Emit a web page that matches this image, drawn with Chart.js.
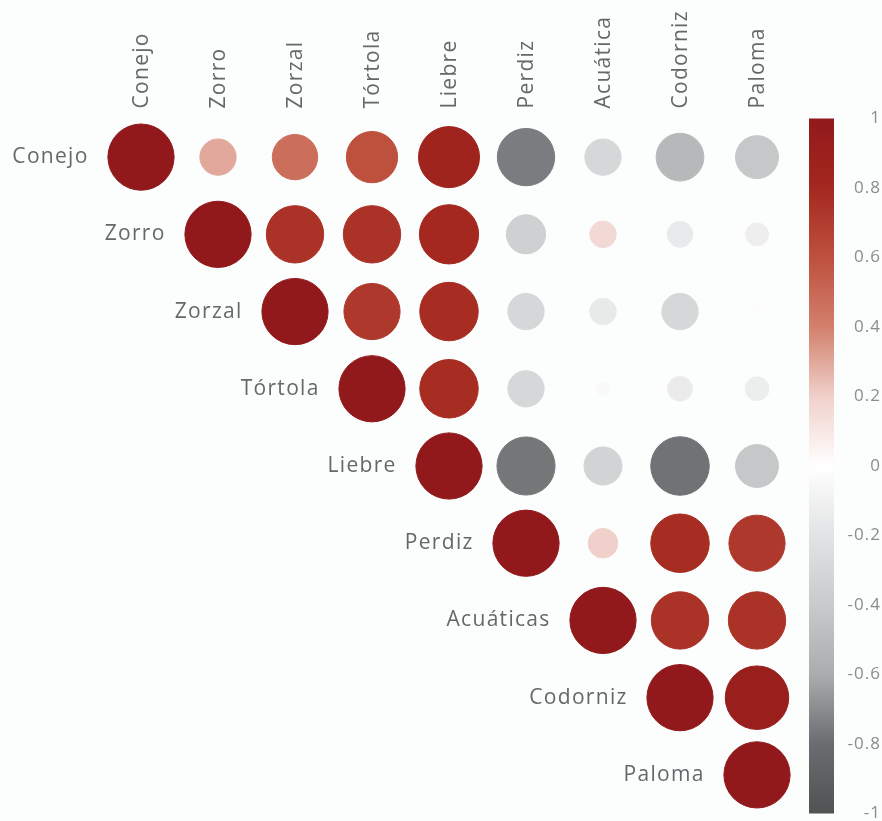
<!DOCTYPE html>
<html><head><meta charset="utf-8">
<script src="https://cdn.jsdelivr.net/npm/chart.js@4/dist/chart.umd.min.js"></script>
<style>html,body{margin:0;padding:0;background:#fcfdfd;} #wrap{width:882px;height:821px;position:relative;}</style>
</head><body><div id="wrap"><canvas id="c" width="882" height="821"></canvas></div>
<script>
// ---- data ----
const colLabels = ['Conejo','Zorro','Zorzal','Tórtola','Liebre','Perdiz','Acuática','Codorniz','Paloma'];
const rowLabels = ['Conejo','Zorro','Zorzal','Tórtola','Liebre','Perdiz','Acuáticas','Codorniz','Paloma'];
// upper triangle of the correlation matrix; each row starts at the diagonal
const rConejo    = [1, 0.30, 0.47, 0.60, 0.85, -0.75, -0.30, -0.52, -0.42];
const rZorro     = [1, 0.75, 0.75, 0.80, -0.35, 0.16, -0.15, -0.12];
const rZorzal    = [1, 0.72, 0.78, -0.30, -0.16, -0.30, -0.02];
const rTortola   = [1, 0.78, -0.30, -0.04, -0.14, -0.13];
const rLiebre    = [1, -0.77, -0.33, -0.78, -0.42];
const rPerdiz    = [1, 0.20, 0.78, 0.72];
const rAcuaticas = [1, 0.75, 0.75];
const rCodorniz  = [1, 0.92];
const rPaloma    = [1];
const colorTicks = [1, 0.8, 0.6, 0.4, 0.2, 0, -0.2, -0.4, -0.6, -0.8, -1];

// ---- style ----
const rows = [rConejo, rZorro, rZorzal, rTortola, rLiebre, rPerdiz, rAcuaticas, rCodorniz, rPaloma];
const stops = [
  [-1, [80, 83, 84]], [-0.8, [106, 109, 111]], [-0.6, [170, 173, 174]], [-0.4, [200, 202, 203]],
  [-0.2, [226, 227, 228]], [0, [255, 255, 255]], [0.2, [240, 208, 202]], [0.4, [210, 128, 108]],
  [0.6, [190, 80, 62]], [0.8, [164, 40, 31]], [1, [145, 25, 27]]
];
function colorFor(v) {
  if (typeof v !== 'number') return 'rgba(0,0,0,0)';
  for (let k = 0; k < stops.length - 1; k++) {
    const [a, ca] = stops[k], [b, cb] = stops[k + 1];
    if (v >= a && v <= b) {
      const t = (v - a) / (b - a);
      const c = ca.map((x, i) => Math.round(x + (cb[i] - x) * t));
      return `rgb(${c[0]},${c[1]},${c[2]})`;
    }
  }
  return 'rgb(145,25,27)';
}

const points = [];
rows.forEach((row, i) => row.forEach((v, j) => points.push({ x: i + j, y: i, v })));

const labelFont = '21px "Open Sans"';
const labelColor = '#65686a';

function cellSize(chart) {
  const xs = chart.scales.x;
  return xs ? xs.getPixelForValue(1) - xs.getPixelForValue(0) : 77;
}

const decor = {
  id: 'decor',
  afterDraw(chart) {
    const ctx = chart.ctx, xs = chart.scales.x, ys = chart.scales.y, cb = chart.scales.cb;
    const cell = cellSize(chart);
    ctx.save();
    ctx.font = labelFont;
    ctx.fillStyle = labelColor;
    ctx.letterSpacing = '1.3px';
    colLabels.forEach((lab, i) => {
      ctx.save();
      ctx.translate(xs.getPixelForValue(i) + 1, ys.top - 10);
      ctx.rotate(-Math.PI / 2);
      ctx.textAlign = 'left';
      ctx.textBaseline = 'middle';
      ctx.fillText(lab, 0, 0);
      ctx.restore();
    });
    ctx.textAlign = 'right';
    ctx.textBaseline = 'middle';
    rowLabels.forEach((lab, i) => {
      ctx.fillText(lab, xs.getPixelForValue(i) - cell * 0.68, ys.getPixelForValue(i));
    });
    const x0 = 809, w = 25;
    const top = cb.getPixelForValue(1), bot = cb.getPixelForValue(-1);
    const g = ctx.createLinearGradient(0, top, 0, bot);
    stops.forEach(([v]) => g.addColorStop((cb.getPixelForValue(v) - top) / (bot - top), colorFor(v)));
    ctx.fillStyle = g;
    ctx.fillRect(x0, top, w, bot - top);
    ctx.font = '17px "Open Sans"';
    ctx.letterSpacing = '1px';
    ctx.fillStyle = '#8a8c8e';
    ctx.textAlign = 'right';
    colorTicks.forEach(v => ctx.fillText(String(v), 881, cb.getPixelForValue(v)));
    ctx.restore();
  }
};

new Chart(document.getElementById('c'), {
  type: 'scatter',
  data: { datasets: [{
    data: points,
    showLine: false,
    pointBackgroundColor: c => colorFor(c.raw && c.raw.v),
    pointBorderColor: c => colorFor(c.raw && c.raw.v),
    pointBorderWidth: 1,
    pointRadius: c => (c.raw ? cellSize(c.chart) * 0.43 * Math.sqrt(Math.abs(c.raw.v)) : 0)
  }]},
  options: {
    responsive: false,
    animation: false,
    events: [],
    layout: { padding: { left: 102.5, right: 86.5, top: 118.5, bottom: 7.5 } },
    plugins: { legend: { display: false }, tooltip: { enabled: false } },
    scales: {
      x: { type: 'linear', min: -0.5, max: 8.5, display: false },
      y: { type: 'linear', min: -0.5, max: 8.5, reverse: true, display: false },
      cb: { type: 'linear', axis: 'y', min: -1, max: 1, display: false, position: 'right' }
    }
  },
  plugins: [decor]
});
</script></body></html>
